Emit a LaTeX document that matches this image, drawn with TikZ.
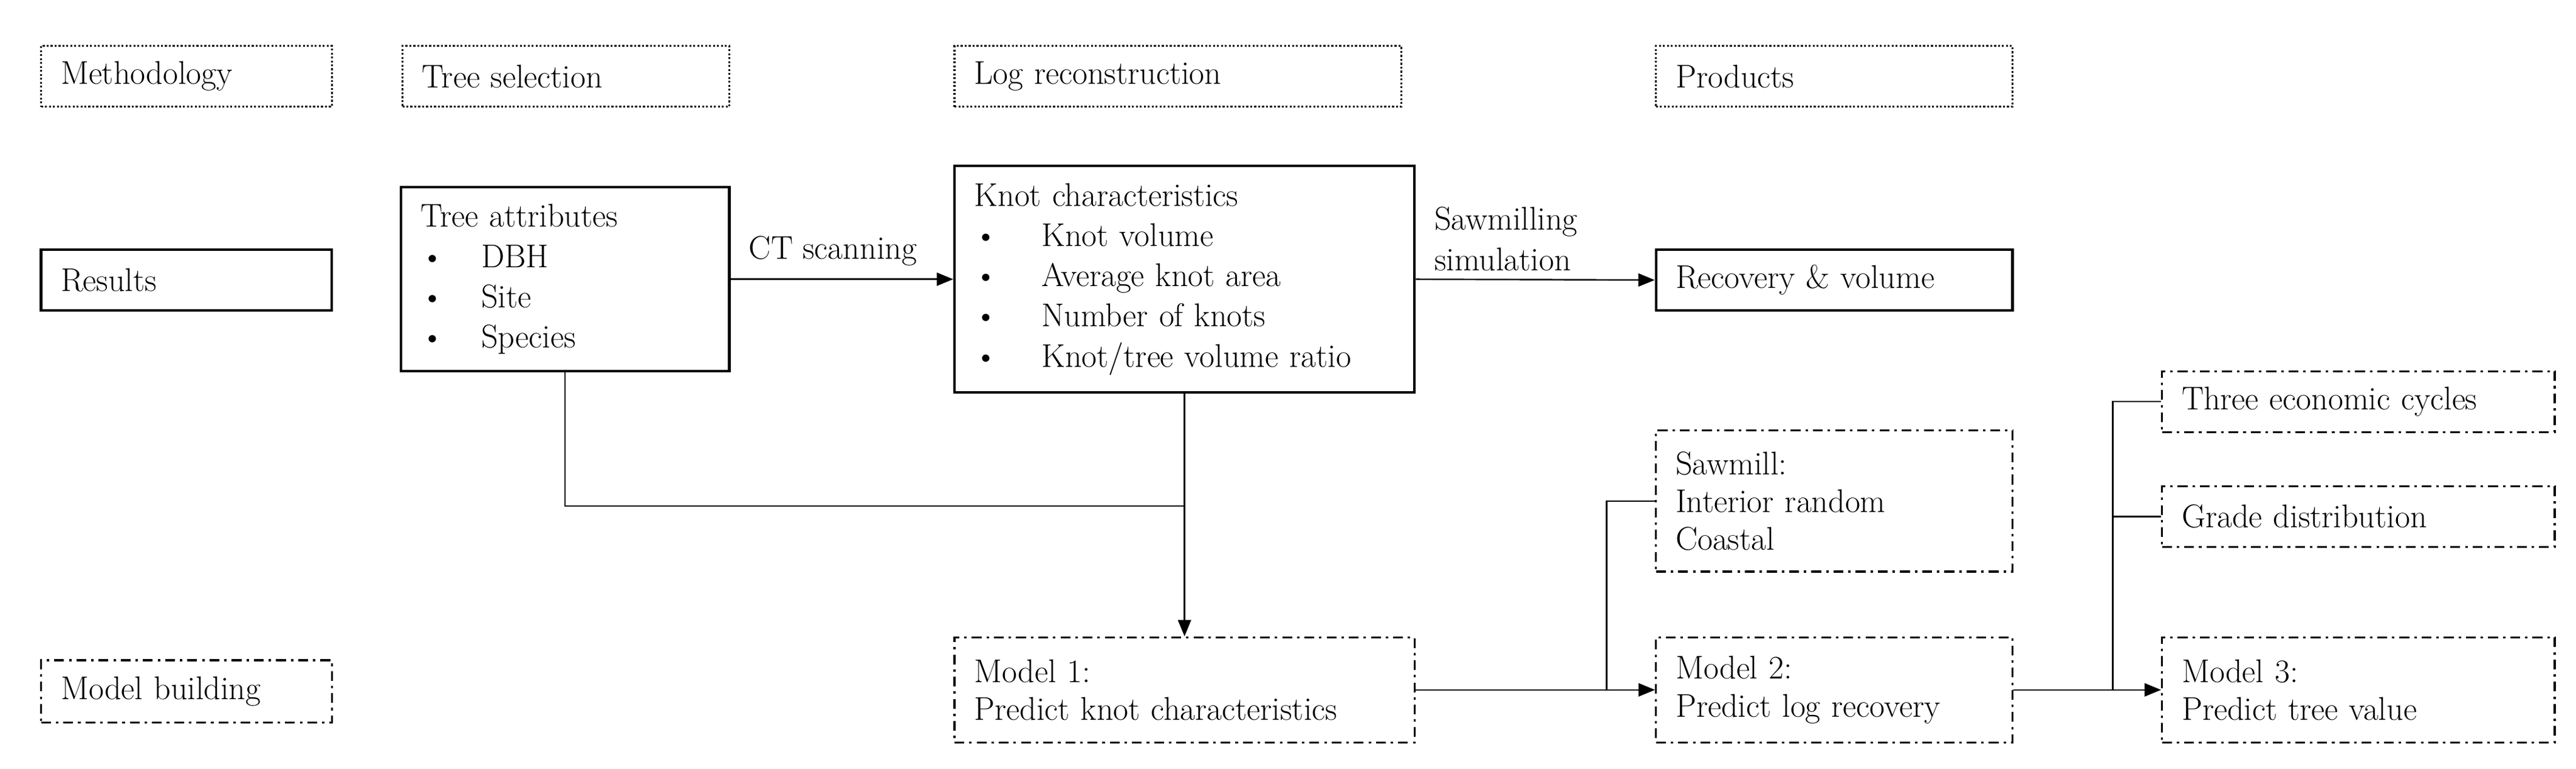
\documentclass[tikz,border=0pt]{standalone}
\usetikzlibrary{arrows.meta}
\begin{document}
\begin{tikzpicture}[x=1pt,y=-1pt,
  base/.style={draw,rectangle,inner xsep=12pt,inner ysep=2pt,align=left,font=\fontsize{20}{24.5}\selectfont,line width=1.2pt},
  solid box/.style={base,line width=1.6pt},
  dot box/.style={base,dash pattern=on 1.2pt off 1.2pt},
  dd box/.style={base,dash pattern=on 6pt off 3pt on 1.5pt off 3pt,font=\fontsize{20}{23}\selectfont},
  conn/.style={line width=0.9pt},
  arr/.style={conn,-{Triangle[length=10pt,width=8pt]}},
  lbl/.style={font=\fontsize{20}{24.5}\selectfont,align=left,inner sep=0pt}]
\useasboundingbox (0,0) rectangle (1568,468);
\fill[white] (0,0) rectangle (1568,468);
% header row
\node[dot box,minimum width=177pt,minimum height=37pt,text width=153pt] (meth) at (113.5,46.5) {Methodology};
\node[dot box,minimum width=199pt,minimum height=37pt,text width=175pt] (tsel) at (344.5,46.5) {Tree selection};
\node[dot box,minimum width=272pt,minimum height=37pt,text width=248pt] (logr) at (717,46.5) {Log reconstruction};
\node[dot box,minimum width=217pt,minimum height=37pt,text width=193pt] (prod) at (1116.5,46.5) {Products};
% results row
\node[solid box,minimum width=177pt,minimum height=37pt,text width=153pt] (res) at (113.5,170.5) {Results};
\node[solid box,minimum width=200pt,minimum height=112pt,text width=176pt] (tree) at (344,170) {Tree attributes\\
\makebox[37pt][l]{\textbullet}DBH\\ \makebox[37pt][l]{\textbullet}Site\\ \makebox[37pt][l]{\textbullet}Species};
\node[solid box,minimum width=280pt,minimum height=138pt,text width=256pt] (knot) at (721,170) {Knot characteristics\\
\makebox[41pt][l]{\textbullet}Knot volume\\ \makebox[41pt][l]{\textbullet}Average knot area\\
\makebox[41pt][l]{\textbullet}Number of knots\\ \makebox[41pt][l]{\textbullet}Knot/tree volume ratio};
\node[solid box,minimum width=217pt,minimum height=37pt,text width=193pt] (rec) at (1116.5,170.5) {Recovery \& volume};
% model row
\node[dd box,minimum width=177pt,minimum height=38pt,text width=153pt] (mb) at (113.5,421) {Model building};
\node[dd box,minimum width=280pt,minimum height=64pt,text width=256pt] (m1) at (721,420) {Model 1:\\ Predict knot characteristics};
\node[dd box,minimum width=217pt,minimum height=86pt,text width=193pt] (saw) at (1116.5,305) {Sawmill:\\ Interior random\\ Coastal};
\node[dd box,minimum width=217pt,minimum height=64pt,text width=193pt] (m2) at (1116.5,420) {Model 2:\\ Predict log recovery};
\node[dd box,minimum width=239pt,minimum height=37pt,text width=215pt] (econ) at (1435.5,244.5) {Three economic cycles};
\node[dd box,minimum width=239pt,minimum height=37pt,text width=215pt] (grade) at (1435.5,314.5) {Grade distribution};
\node[dd box,minimum width=239pt,minimum height=64pt,text width=215pt] (m3) at (1435.5,420) {Model 3:\\ Predict tree value};
% labels
\node[lbl,anchor=south] (ct) at (507,162) {CT scanning};
\node[lbl,anchor=south west] (sim) at (873,165) {Sawmilling\\ simulation};
% connectors
\coordinate (j1) at (721,308);
\coordinate (b1) at (978,420);
\coordinate (b2) at (1286,420);
\draw[arr] (tree.east |- knot.west) -- (knot.west);
\draw[arr] (knot.east) -- (rec.west);
\draw[conn] (tree.south) |- (j1);
\draw[arr] (knot.south) -- (m1.north);
\draw[arr] (m1.east) -- (m2.west);
\draw[conn] (b1) |- (saw.west);
\draw[arr] (m2.east) -- (m3.west);
\draw[conn] (b2) |- (econ.west);
\draw[conn] (b2) |- (grade.west);
\end{tikzpicture}
\end{document}
